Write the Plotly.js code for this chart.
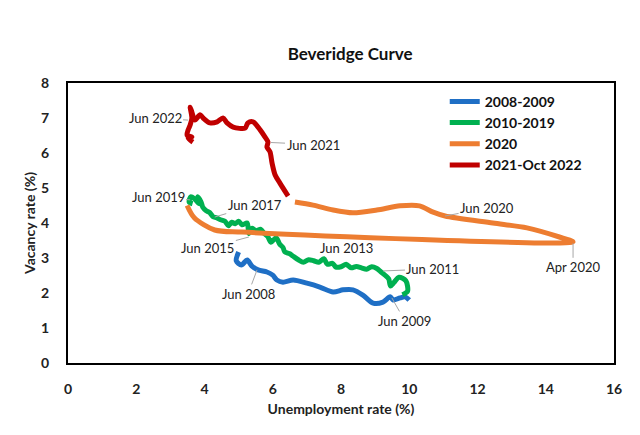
<!DOCTYPE html>
<html>
<head>
<meta charset="utf-8">
<script src="https://cdn.plot.ly/plotly-3.0.1.min.js"></script>
<style>html,body{margin:0;padding:0;background:#fff;}#chart{width:640px;height:435px;}</style>
</head>
<body>
<div id="chart"></div>
<script>
// Series names
const seriesNames = ["2008-2009", "2010-2019", "2020", "2021-Oct 2022"];

// 2008-2009 (unemployment %, vacancy %)
const u2008 = [5.0, 4.93, 5.08, 5.25, 5.39, 5.57, 5.83, 6.0, 6.12, 6.3, 6.6, 7.0, 7.38, 7.77, 8.06, 8.35, 8.64, 8.94, 9.23, 9.44, 9.53, 9.73, 9.88, 10.0];
const v2008 = [3.17, 2.92, 2.8, 2.94, 2.77, 2.66, 2.6, 2.51, 2.37, 2.31, 2.37, 2.28, 2.17, 2.03, 2.09, 2.09, 1.94, 1.71, 1.74, 1.89, 1.8, 1.86, 1.89, 1.8];

// 2010-2019
const u2010 = [9.8, 9.95, 9.9, 9.7, 9.55, 9.45, 9.4, 9.3, 9.15, 9.05, 8.9, 8.75, 8.6, 8.45, 8.3, 8.15, 8.0, 7.85, 7.75, 7.6, 7.5, 7.35, 7.2, 7.05, 6.9, 6.75, 6.6, 6.5, 6.35, 6.3, 6.2, 6.1, 5.95, 5.85, 5.75, 5.65, 5.5, 5.4, 5.3, 5.25, 5.1, 5.0, 4.9, 4.8, 4.7, 4.6, 4.45, 4.35, 4.25, 4.15, 4.05, 3.95, 3.9, 3.8, 3.85, 3.7, 3.6, 3.55, 3.65];
const v2010 = [1.95, 2.05, 2.35, 2.45, 2.3, 2.2, 2.4, 2.5, 2.62, 2.7, 2.75, 2.68, 2.72, 2.76, 2.72, 2.82, 2.75, 2.74, 2.85, 2.82, 2.98, 2.88, 2.92, 2.95, 2.88, 2.95, 3.05, 3.12, 3.18, 3.3, 3.4, 3.58, 3.45, 3.62, 3.7, 3.82, 3.78, 3.85, 3.7, 4.0, 3.95, 4.05, 3.98, 4.02, 3.92, 4.05, 4.1, 4.15, 4.18, 4.3, 4.35, 4.45, 4.6, 4.75, 4.55, 4.7, 4.75, 4.6, 4.55];

// 2020
const u2020 = [3.49, 3.7, 4.3, 5.1, 14.8, 14.4, 13.45, 12.45, 11.05, 10.7, 10.3, 9.73, 9.05, 8.35, 7.77, 7.18, 6.65];
const v2020 = [4.5, 4.15, 3.8, 3.74, 3.46, 3.6, 3.86, 4.0, 4.2, 4.31, 4.49, 4.49, 4.37, 4.29, 4.37, 4.51, 4.6];

// 2021-Oct 2022
const u2021 = [6.45, 6.21, 6.07, 5.98, 5.92, 5.83, 5.86, 5.77, 5.63, 5.42, 5.27, 5.19, 4.84, 4.66, 4.54, 4.37, 4.16, 3.96, 3.87, 3.72, 3.63, 3.58, 3.63, 3.58, 3.52, 3.49, 3.63, 3.52, 3.66];
const v2021 = [4.77, 5.14, 5.37, 5.71, 6.03, 6.17, 6.31, 6.46, 6.66, 6.89, 6.86, 6.71, 6.74, 6.86, 7.0, 6.89, 6.86, 7.0, 7.09, 6.94, 7.17, 7.31, 7.0, 6.8, 6.66, 6.51, 6.46, 6.43, 6.31];

// Point labels
const labelText = ["Jun 2022", "Jun 2021", "Jun 2019", "Jun 2017", "Jun 2015", "Jun 2011", "Jun 2008", "Jun 2009", "Jun 2020", "Apr 2020"];
const labelU = [3.52, 5.95, 3.58, 4.3, 5.3, 9.23, 5.54, 9.49, 11.05, 14.8];
const labelV = [6.94, 6.3, 4.66, 4.17, 3.6, 2.63, 2.66, 1.86, 4.2, 3.42];
const freeLabel = {text: "Jun 2013", u: 8.15, v: 3.29};

const colors = ["#1F6FC5", "#00B050", "#ED7D31", "#C00000"];
const FONT = "Lato, Carlito, Calibri, 'Open Sans', sans-serif";

const us = [u2008, u2010, u2020, u2021];
const vs = [v2008, v2010, v2020, v2021];
const traces = seriesNames.map((n, i) => ({
  type: "scatter", mode: "lines", name: n,
  x: us[i], y: vs[i],
  line: {color: colors[i], width: 5, shape: "spline", smoothing: 0.8}
}));

const offs = [[-33, -2], [42, 2], [-32, -3], [40, -12], [-41, 11], [50, -2], [-9, 24], [13, 23], [42, -8], [0, 24]];
const annotations = labelText.map((t, i) => ({
  x: labelU[i], y: labelV[i], xref: "x", yref: "y", text: t,
  showarrow: true, arrowhead: 0, arrowwidth: 1, arrowcolor: "#A6A6A6",
  ax: offs[i][0], ay: offs[i][1],
  font: {family: FONT, size: 13, color: "#222"}
}));
annotations.push({x: freeLabel.u, y: freeLabel.v, xref: "x", yref: "y", text: freeLabel.text,
  showarrow: false, font: {family: FONT, size: 13, color: "#222"}});

const layout = {
  width: 640, height: 435,
  margin: {l: 68, r: 26, t: 83, b: 72},
  paper_bgcolor: "#fff", plot_bgcolor: "#fff",
  font: {family: FONT, color: "#222"},
  title: {text: "Beveridge Curve", font: {family: FONT, size: 17, weight: "bold", color: "#111"}, x: 0.547, xanchor: "center", y: 0.875, yanchor: "middle"},
  xaxis: {range: [0, 16], dtick: 2, tick0: 0, showgrid: false, zeroline: false,
    showline: true, linecolor: "#000", linewidth: 2, mirror: true, ticks: "",
    ticklabelstandoff: 12,
    tickfont: {family: FONT, size: 14, weight: "bold", color: "#222"},
    title: {text: "Unemployment rate (%)", font: {family: FONT, size: 14, weight: "bold", color: "#222"}, standoff: 8}},
  yaxis: {range: [0, 8], dtick: 1, tick0: 0, showgrid: false, zeroline: false,
    showline: true, linecolor: "#000", linewidth: 2, mirror: true, ticks: "",
    ticklabelstandoff: 14,
    tickfont: {family: FONT, size: 14, weight: "bold", color: "#222"},
    title: {text: "Vacancy rate (%)", font: {family: FONT, size: 14, weight: "bold", color: "#222"}, standoff: 2}},
  legend: {x: 0.69, y: 0.99, xanchor: "left", yanchor: "top", bgcolor: "rgba(0,0,0,0)",
    font: {family: FONT, size: 14, weight: "bold", color: "#111"}, tracegroupgap: 0},
  annotations: annotations,
  showlegend: true
};

Plotly.newPlot("chart", traces, layout, {displayModeBar: false, staticPlot: true});
</script>
</body>
</html>
